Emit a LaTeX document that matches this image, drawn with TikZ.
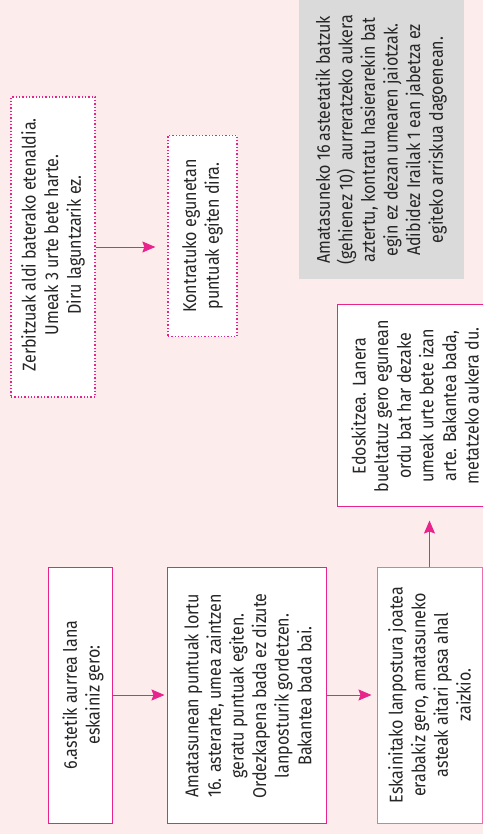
\documentclass[tikz,border=0pt]{standalone}
\usepackage{fontspec}
\setmainfont{Fira Sans}[FakeStretch=0.87]
\usetikzlibrary{arrows.meta}
\definecolor{bg}{RGB}{252,236,236}
\definecolor{mag}{RGB}{232,35,140}
\definecolor{lpink}{RGB}{236,110,170}
\definecolor{gbox}{RGB}{218,218,218}
\begin{document}
\begin{tikzpicture}[x=1pt,y=-1pt,
  txt/.style={font=\fontsize{18.5}{22.6}\selectfont, align=center, rotate=90, inner sep=0pt, text=black!85},
  sbox/.style={draw=mag, line width=1pt, fill=white, inner sep=0pt},
  lbox/.style={draw=lpink, line width=1pt, fill=white, inner sep=0pt},
  dbox/.style={draw=mag, line width=1.3pt, dotted, fill=white, inner sep=0pt},
  gray box/.style={fill=gbox, inner sep=0pt},
  arr/.style={draw=mag, line width=1pt, -{Stealth[length=13pt,width=11pt,inset=2pt]}}]
\useasboundingbox (0,0) rectangle (483,834);
\clip (0,0) rectangle (483,834);
\fill[bg] (0,0) rectangle (483,834);

% gray note
\node[gray box, minimum width=165pt, minimum height=289pt] (gr) at (381.5,134.5) {};
\node[txt] (grt) at (381,140) {Amatasuneko 16 asteetatik batzuk\\(gehienez 10)\ \ aurreratzeko aukera\\aztertu, kontratu hasierarekin bat\\egin ez dezan umearen jaiotzak.\\Adibidez Irailak 1 ean jabetza ez\\egiteko arriskua dagoenean.};

% dotted boxes
\node[dbox, minimum width=84pt, minimum height=300pt] (da) at (53,247) {};
\node[txt] (dat) at (53,245) {Zerbitzuak aldi baterako etenaldia.\\Umeak 3 urte bete harte.\\Diru laguntzarik ez.};
\node[dbox, minimum width=69pt, minimum height=201pt] (db) at (202.5,236) {};
\node[txt] (dbt) at (202.5,236) {Kontratuko egunetan\\puntuak egiten dira.};

% Edoskitzea box
\node[sbox, minimum width=163pt, minimum height=202pt] (ed) at (418.5,405) {};
\node[txt] (edt) at (415,406) {Edoskitzea. Lanera\\bueltatuz gero egunean\\ordu bat har dezake\\umeak urte bete izan\\arte. Bakantea bada,\\metatzeko aukera du.};

% bottom boxes
\node[sbox, minimum width=64pt, minimum height=256pt] (b1) at (80,695) {};
\node[txt] (b1t) at (83,695) {6.astetik aurrea lana\\eskainiz gero:};
\node[sbox, minimum width=159pt, minimum height=256pt] (b2) at (246.5,695) {};
\node[txt] (b2t) at (248,696) {Amatasunean puntuak lortu\\16. asterarte, umea zaintzen\\geratu puntuak egiten.\\Ordezkapena bada ez dizute\\lanposturik gordetzen.\\Bakantea bada bai.};
\node[lbox, minimum width=105pt, minimum height=256pt] (b3) at (429.5,695) {};
\node[txt] (b3t) at (429.5,695) {Eskainitako lanpostura joatea\\erabakiz gero, amatasuneko\\asteak aitari pasa ahal\\zaizkio.};

% arrows
\draw[arr, shorten >=12pt] (da.east |- 0,247) -- (db.west |- 0,247);
\draw[arr, shorten >=2pt] (b1.east) -- (b2.west);
\draw[arr, shorten >=5pt] (b2.east) -- (b3.west);
\draw[arr, shorten >=14pt] (b3.north) -- (b3.north |- ed.south);
\end{tikzpicture}
\end{document}
